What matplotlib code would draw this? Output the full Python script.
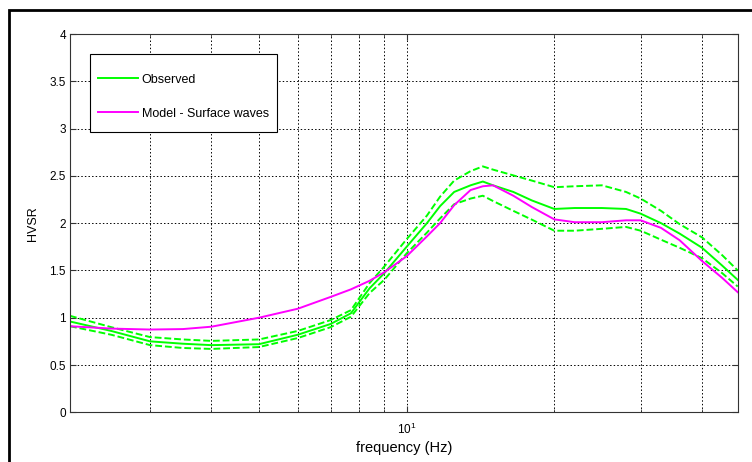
import matplotlib.pyplot as plt
from matplotlib.patches import Rectangle

plt.rcParams['font.family'] = ['Liberation Sans', 'DejaVu Sans']

# frecuencias (Hz) y curvas HVSR
freq = [2.06, 2.5, 3, 3.5, 4, 5, 6, 7, 7.7, 8.4, 9, 10, 11, 11.7, 12.5, 13.5,
        14.3, 15, 16.5, 18, 20, 22, 25, 28, 30, 33, 36, 40, 44, 47.3]

obs_mean = [0.96, 0.86, 0.75, 0.725, 0.71, 0.72, 0.82, 0.934, 1.047, 1.31, 1.47,
            1.75, 2.0, 2.18, 2.33, 2.40, 2.44, 2.40, 2.33, 2.24, 2.15, 2.16, 2.16,
            2.15, 2.10, 2.0, 1.89, 1.74, 1.55, 1.40]
obs_upper = [1.02, 0.90, 0.795, 0.77, 0.755, 0.77, 0.86, 0.975, 1.08, 1.365, 1.54,
             1.83, 2.08, 2.28, 2.45, 2.55, 2.60, 2.566, 2.505, 2.45, 2.38, 2.39, 2.40,
             2.33, 2.26, 2.13, 1.99, 1.85, 1.66, 1.50]
obs_lower = [0.91, 0.82, 0.71, 0.68, 0.67, 0.69, 0.785, 0.90, 1.01, 1.26, 1.40,
             1.68, 1.90, 2.05, 2.20, 2.26, 2.29, 2.234, 2.13, 2.037, 1.92, 1.92, 1.94,
             1.96, 1.92, 1.825, 1.74, 1.63, 1.47, 1.33]
model = [0.91, 0.885, 0.875, 0.88, 0.905, 1.0, 1.095, 1.22, 1.30, 1.39, 1.48,
         1.65, 1.86, 2.0, 2.19, 2.35, 2.39, 2.40, 2.29, 2.17, 2.04, 2.01, 2.01,
         2.03, 2.03, 1.95, 1.82, 1.60, 1.42, 1.27]

yticks = [0, 0.5, 1, 1.5, 2, 2.5, 3, 3.5, 4]
ytick_labels = ['0', '0.5', '1', '1.5', '2', '2.5', '3', '3.5', '4']

fig = plt.figure(figsize=(7.52, 4.62), dpi=100)
ax = fig.add_axes([0.0931, 0.1076, 0.8879, 0.8188])

verde = '#00ff00'
magenta = '#ff00ff'
ax.plot(freq, obs_mean, color=verde, lw=1.4, label='Observed')
ax.plot(freq, obs_upper, color=verde, lw=1.4, linestyle=(0, (3.5, 1.5)))
ax.plot(freq, obs_lower, color=verde, lw=1.4, linestyle=(0, (3.5, 1.5)))
ax.plot(freq, model, color=magenta, lw=1.4, label='Model - Surface waves')

ax.set_xscale('log')
ax.set_xlim(freq[0], freq[-1])
ax.set_ylim(0, 4)
ax.set_xticks([10])
ax.set_xticklabels([r'$\mathdefault{10^{1}}$'])
ax.set_xticks([3, 4, 5, 6, 7, 8, 9, 20, 30, 40], minor=True)
ax.set_xticklabels([], minor=True)
ax.set_yticks(yticks)
ax.set_yticklabels(ytick_labels)

ax.tick_params(which='both', direction='in', top=True, right=True,
               color='#333333')
ax.tick_params(axis='y', labelsize=8.5, pad=3)
ax.tick_params(axis='x', labelsize=8.5, pad=7)
ax.tick_params(which='major', length=4)
ax.tick_params(which='minor', length=2.5)
ax.grid(True, which='both', color='black', linestyle=(0, (1.5, 2.2)), lw=0.7)
for s in ax.spines.values():
    s.set_color('#333333')
    s.set_linewidth(0.8)

ax.set_xlabel('frequency (Hz)', fontsize=10.5, labelpad=3)
ax.set_ylabel('HVSR', fontsize=9, labelpad=7.5)

# caja de la leyenda (blanca, tapa la rejilla)
ax.add_patch(Rectangle((0.030, 0.741), 0.280, 0.206, transform=ax.transAxes,
                       facecolor='white', edgecolor='black', lw=0.8, zorder=4))
leg = ax.legend(loc='upper left', bbox_to_anchor=(0.0419, 0.895), borderaxespad=0,
                fontsize=9, handlelength=3.2, handletextpad=0.3,
                labelspacing=1.75, borderpad=0, frameon=False)
leg.set_zorder(5)

# marco negro de la figura
fig.patches.append(Rectangle((0.012, -0.1), 1.2, 1.078, transform=fig.transFigure,
                             fill=False, edgecolor='black', lw=2))

plt.savefig('out.png', dpi=100)
